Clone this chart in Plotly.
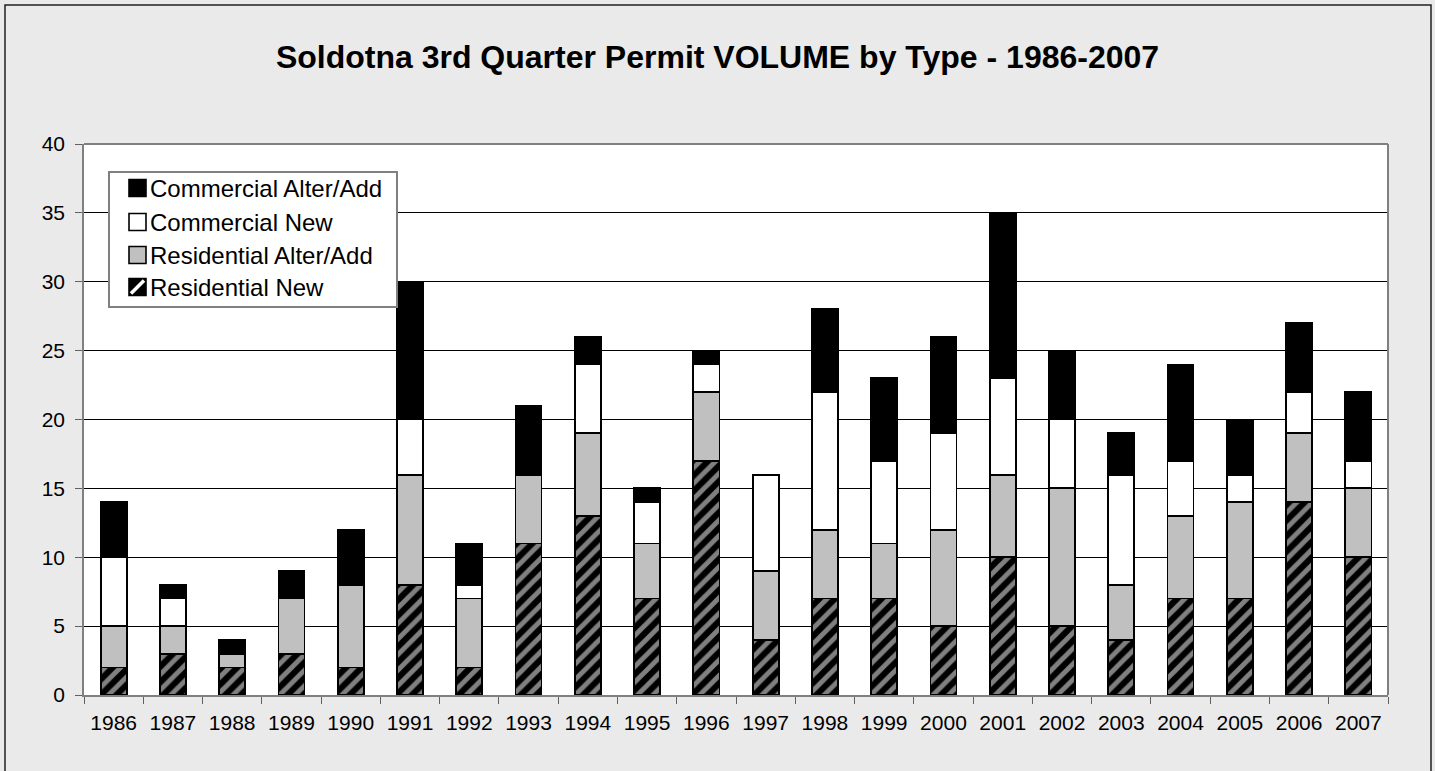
import plotly.graph_objects as go

# Third-quarter building permit counts, Soldotna
years = ["1986", "1987", "1988", "1989", "1990", "1991", "1992", "1993", "1994", "1995", "1996",
         "1997", "1998", "1999", "2000", "2001", "2002", "2003", "2004", "2005", "2006", "2007"]
residential_new = [2, 3, 2, 3, 2, 8, 2, 11, 13, 7, 17, 4, 7, 7, 5, 10, 5, 4, 7, 7, 14, 10]
residential_alter = [3, 2, 1, 4, 6, 8, 5, 5, 6, 4, 5, 5, 5, 4, 7, 6, 10, 4, 6, 7, 5, 5]
commercial_new = [5, 2, 0, 0, 0, 4, 1, 0, 5, 3, 2, 7, 10, 6, 7, 7, 5, 8, 4, 2, 3, 2]
commercial_alter = [4, 1, 1, 2, 4, 10, 3, 5, 2, 1, 1, 0, 6, 6, 7, 12, 5, 3, 7, 4, 5, 5]

series_names = ["Residential New", "Residential Alter/Add", "Commercial New", "Commercial Alter/Add"]
series_fill = ["black", "#c0c0c0", "white", "black"]

y_ticks = [0, 5, 10, 15, 20, 25, 30, 35, 40]

W, H = 1435, 771
L, R, T, B = 84, 47, 144, 76
PW, PH = W - L - R, H - T - B
FONT = "Liberation Sans, Arial, sans-serif"


def px_x(px):
    return (px - L) / PW


def px_y(py):
    return (H - B - py) / PH


outline = dict(color="black", width=1.8)
values = [residential_new, residential_alter, commercial_new, commercial_alter]

fig = go.Figure()
for i, (name, fill, vals) in enumerate(zip(series_names, series_fill, values)):
    marker = dict(color=fill, line=outline)
    if i == 0:
        marker["pattern"] = dict(shape="/", fillmode="overlay", fgcolor="white",
                                 bgcolor="black", size=11, solidity=0.45)
    fig.add_trace(go.Bar(x=years, y=vals, name=name, marker=marker, showlegend=False))

# outer chart frame
fig.add_shape(type="rect", xref="paper", yref="paper", layer="below",
              x0=px_x(5), x1=px_x(1431), y0=-0.5, y1=px_y(5),
              line=dict(color="#202020", width=1.5), fillcolor="rgba(0,0,0,0)")

# gray frame on the top and right of the plot area
fig.add_shape(type="line", xref="paper", yref="paper", x0=1, x1=1, y0=0, y1=1,
              line=dict(color="#808080", width=2))
fig.add_shape(type="line", xref="paper", yref="paper", x0=0, x1=1, y0=1, y1=1,
              line=dict(color="#808080", width=2))

# legend box
fig.add_shape(type="rect", xref="paper", yref="paper",
              x0=px_x(109), x1=px_x(397), y0=px_y(307), y1=px_y(172),
              line=dict(color="#808080", width=2), fillcolor="white")

row_y = [287, 255, 222, 188]  # Residential New ... Commercial Alter/Add
sw = 8.5
for i, (name, fill) in enumerate(zip(series_names, series_fill)):
    cy = row_y[i]
    cx = 137.5
    fig.add_shape(type="rect", xref="paper", yref="paper",
                  x0=px_x(cx - sw), x1=px_x(cx + sw), y0=px_y(cy + sw), y1=px_y(cy - sw),
                  line=dict(color="black", width=1.6), fillcolor=fill)
    if i == 0:
        fig.add_shape(type="line", xref="paper", yref="paper",
                      x0=px_x(cx - sw + 2), x1=px_x(cx + sw - 2),
                      y0=px_y(cy + sw - 2), y1=px_y(cy - sw + 2),
                      line=dict(color="white", width=3.5))
    fig.add_annotation(xref="paper", yref="paper", x=px_x(148), y=px_y(cy),
                       xanchor="left", yanchor="middle", showarrow=False,
                       text=name, font=dict(size=24, family=FONT, color="black"))

fig.update_layout(
    width=W, height=H,
    margin=dict(l=L, r=R, t=T, b=B, autoexpand=False),
    paper_bgcolor="#eaeaea",
    plot_bgcolor="white",
    barmode="stack",
    bargap=0.56,
    showlegend=False,
    font=dict(family=FONT, color="black", size=21),
    title=dict(text="<b>Soldotna 3rd Quarter Permit VOLUME by Type - 1986-2007</b>",
               x=0.5, xref="container", xanchor="center",
               y=1 - 57 / H, yanchor="middle",
               font=dict(size=32, family=FONT, color="black")),
    xaxis=dict(
        type="category", showgrid=False,
        showline=True, linecolor="#808080", linewidth=1.5,
        ticks="outside", tickson="boundaries", ticklen=7, tickcolor="#606060",
        tickfont=dict(size=21, family=FONT), ticklabelstandoff=8,
    ),
    yaxis=dict(
        range=[0, 40], tickvals=y_ticks, ticktext=[str(v) for v in y_ticks],
        showgrid=True, gridcolor="black", gridwidth=1,
        showline=True, linecolor="#808080", linewidth=1.5,
        ticks="outside", ticklen=7, tickcolor="#606060",
        tickfont=dict(size=21, family=FONT), zeroline=False,
        ticklabelstandoff=6,
    ),
)

fig.write_html("out.html")
